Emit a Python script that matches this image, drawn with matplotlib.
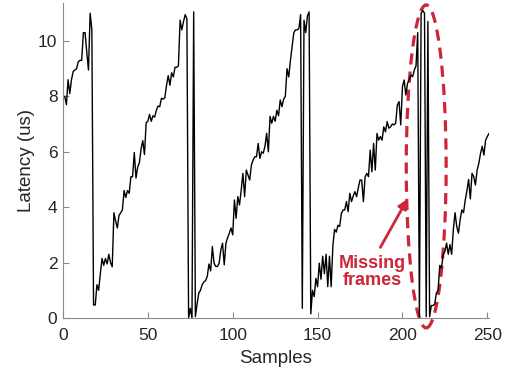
import numpy as np
import matplotlib
matplotlib.use('Agg')
import matplotlib.pyplot as plt
from matplotlib.patches import Ellipse

plt.rcParams['font.family'] = ['Liberation Sans', 'DejaVu Sans']

# latency per sample (us)
latency = [
    8.0, 7.7, 8.6, 8.1, 8.6, 8.9, 8.95, 9.0, 9.25, 9.3,
    9.3, 10.3, 10.3, 9.6, 8.95, 11.0, 10.4, 0.47, 0.47, 1.2,
    1.0, 1.6, 2.15, 1.9, 2.15, 1.95, 2.3, 2.0, 1.85, 3.8,
    3.5, 3.25, 3.7, 3.8, 3.9, 4.6, 4.35, 4.6, 4.5, 5.1,
    5.1, 5.97, 5.05, 5.45, 5.6, 6.1, 6.4, 5.9, 7.05, 7.1,
    7.35, 7.1, 7.3, 7.25, 7.5, 7.65, 7.63, 7.93, 7.9, 7.95,
    8.4, 8.75, 8.4, 8.85, 8.7, 9.05, 9.05, 9.1, 10.75, 10.4,
    10.7, 10.95, 10.8, 0.0, 0.35, 0.0, 11.05, 0.05, 0.5, 0.9,
    1.0, 1.2, 1.3, 1.35, 1.5, 1.95, 1.7, 2.58, 1.98, 1.86,
    1.86, 1.98, 2.46, 2.7, 1.92, 2.7, 2.9, 3.06, 3.25, 3.0,
    4.26, 3.6, 4.38, 4.08, 4.62, 5.22, 4.38, 5.34, 5.16, 4.98,
    5.52, 5.7, 5.82, 5.82, 6.3, 5.76, 6.0, 5.95, 6.2, 6.67,
    6.0, 7.28, 7.03, 7.28, 7.1, 7.5, 7.3, 7.87, 7.63, 7.9,
    8.0, 9.0, 8.7, 9.3, 9.8, 10.3, 10.4, 10.4, 10.45, 10.95,
    0.35, 10.75, 10.3, 10.9, 11.05, 0.15, 1.0, 0.77, 1.43, 1.13,
    1.98, 1.4, 2.23, 1.6, 2.3, 1.13, 2.23, 1.13, 2.6, 3.2,
    3.1, 3.35, 3.3, 3.77, 3.9, 3.9, 4.2, 3.84, 4.5, 4.2,
    4.4, 4.56, 4.38, 4.7, 4.98, 4.98, 4.2, 5.1, 5.22, 5.1,
    6.06, 5.28, 6.3, 5.34, 6.66, 6.42, 6.55, 6.42, 6.9, 6.72,
    7.09, 6.85, 6.9, 7.0, 6.97, 7.03, 7.69, 7.81, 6.97, 8.35,
    8.59, 8.05, 8.47, 8.6, 8.77, 8.71, 8.95, 9.1, 10.3, 0.05,
    11.0, 11.1, 11.0, 0.05, 10.7, 0.05, 0.45, 0.45, 0.5, 0.9,
    1.0, 1.9, 1.8, 2.3, 2.4, 2.7, 2.3, 2.65, 2.3, 3.2,
    3.8, 3.3, 3.06, 3.55, 3.9, 3.8, 4.26, 4.6, 5.0, 4.3,
    5.22, 5.1, 4.8, 5.34, 5.58, 5.94, 6.2, 5.88, 6.42, 6.55,
    6.66,
]
samples = np.arange(1, len(latency) + 1)

x_ticks = [0, 50, 100, 150, 200, 250]
y_ticks = [0, 2, 4, 6, 8, 10]

red = '#cc2638'
axis_grey = '#8c8c8c'
text_grey = '#262626'

fig = plt.figure(figsize=(5.16, 3.77), dpi=100)
ax = fig.add_axes([63 / 516, 1 - 318 / 377, (489 - 63) / 516, (318 - 3) / 377])

ax.plot(samples, latency, color='black', linewidth=1.0)

ax.set_xlim(0, 251)
ax.set_ylim(0, 11.37)
ax.set_xticks(x_ticks)
ax.set_yticks(y_ticks)

for side in ['top', 'right']:
    ax.spines[side].set_visible(False)
for side in ['left', 'bottom']:
    ax.spines[side].set_color(axis_grey)
    ax.spines[side].set_linewidth(0.8)
ax.tick_params(direction='in', length=4, width=0.8, color=axis_grey,
               labelsize=12.5, labelcolor=text_grey, pad=4)
ax.tick_params(axis='x', pad=7)

ax.set_xlabel('Samples', fontsize=13.5, color=text_grey, labelpad=5)
ax.set_ylabel('Latency (us)', fontsize=13.5, color=text_grey, labelpad=2)

# dashed ellipse around the missing frames
ell = Ellipse((214, 5.47), width=23.5, height=11.66, fill=False,
              edgecolor=red, linewidth=2.3, linestyle=(0, (3.5, 2.2)),
              clip_on=False)
ax.add_patch(ell)

ax.annotate('', xy=(203, 4.3), xytext=(187, 2.55),
            arrowprops=dict(arrowstyle='-|>', color=red, lw=2.0,
                            mutation_scale=14, shrinkA=0, shrinkB=0))
ax.text(182, 1.66, 'Missing\nframes', color=red, fontsize=13,
        fontweight='bold', ha='center', va='center', linespacing=1.05)

fig.savefig('out.png', dpi=100)
